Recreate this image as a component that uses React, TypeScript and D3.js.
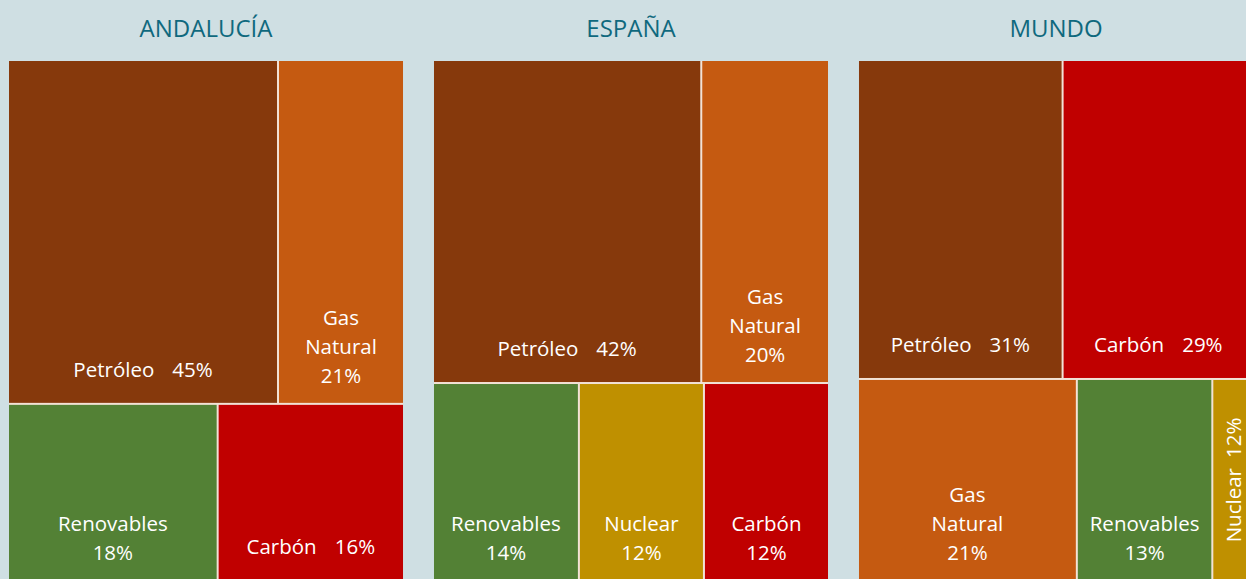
import React from 'react';
import * as d3 from 'd3';

// Andalucía, España y Mundo: energía primaria por fuente
const regions = ['ANDALUCÍA', 'ESPAÑA', 'MUNDO'];

const andaluciaNames = ['Petróleo', 'Gas Natural', 'Renovables', 'Carbón'];
const andaluciaValues = [45, 21, 18, 16];
const andaluciaLabels = ['45%', '21%', '18%', '16%'];

const espanaNames = ['Petróleo', 'Gas Natural', 'Renovables', 'Nuclear', 'Carbón'];
const espanaValues = [42, 20, 14, 12, 12];
const espanaLabels = ['42%', '20%', '14%', '12%', '12%'];

const mundoNames = ['Petróleo', 'Carbón', 'Gas Natural', 'Renovables', 'Nuclear'];
const mundoValues = [31, 29, 21, 13, 4];
const mundoLabels = ['31%', '29%', '21%', '13%', '12%'];

// how many items go in the top row of each treemap
const topRowCounts = [2, 2, 2];

const colors: Record<string, string> = {
  'Petróleo': '#86390c',
  'Gas Natural': '#c55a11',
  'Carbón': '#c00000',
  'Renovables': '#538135',
  'Nuclear': '#bf9000',
};

const W = 1246;
const H = 579;
const FONT = '"Open Sans", "DejaVu Sans", sans-serif';
const FS = 20.5;

const panels = [
  { names: andaluciaNames, values: andaluciaValues, labels: andaluciaLabels },
  { names: espanaNames, values: espanaValues, labels: espanaLabels },
  { names: mundoNames, values: mundoValues, labels: mundoLabels },
];

const ctx = document.createElement('canvas').getContext('2d')!;
const measure = (s: string) => {
  ctx.font = `${FS}px ${FONT}`;
  return ctx.measureText(s).width;
};

const Panel = ({ idx, x0, pw, top, ph }: any) => {
  const p = panels[idx];
  const items = p.names.map((n: string, i: number) => ({ name: n, value: p.values[i], label: p.labels[i] }));
  const k = topRowCounts[idx];
  const data = { children: [{ children: items.slice(0, k) }, { children: items.slice(k) }] };

  const root = d3
    .hierarchy<any>(data)
    .sum((d: any) => d.value || 0);

  // rows stacked vertically, cells side by side within a row
  d3
    .treemap<any>()
    .tile((node: any, a: number, b: number, c: number, e: number) =>
      node.depth === 0 ? d3.treemapSlice(node, a, b, c, e) : d3.treemapDice(node, a, b, c, e)
    )
    .size([pw, ph])
    .paddingInner(2)(root);

  const leaves = root.leaves() as any[];

  return (
    <g transform={`translate(${x0},${top})`}>
      <rect width={pw} height={ph} fill="#f2e2d6" />
      {leaves.map((d, i) => {
        const w = d.x1 - d.x0;
        const h = d.y1 - d.y0;
        const cx = (d.x0 + d.x1) / 2;
        const gap = 18;
        const oneW = measure(d.data.name) + gap + measure(d.data.label);
        let label;
        if (w < 60) {
          const cy = (d.y0 + d.y1) / 2;
          label = (
            <text transform={`translate(${cx},${cy}) rotate(-90)`} textAnchor="middle" dominantBaseline="central">
              <tspan>{d.data.name}</tspan>
              <tspan dx={10}>{d.data.label}</tspan>
            </text>
          );
        } else if (oneW * 1.38 < w) {
          label = (
            <text x={cx} y={d.y1 - 34} textAnchor="middle" dominantBaseline="central">
              <tspan>{d.data.name}</tspan>
              <tspan dx={gap}>{d.data.label}</tspan>
            </text>
          );
        } else {
          const lines = [...d.data.name.split(' '), d.data.label];
          const last = d.y1 - 28;
          label = (
            <text textAnchor="middle" dominantBaseline="central">
              {lines.map((l: string, j: number) => (
                <tspan key={j} x={cx} y={last - (lines.length - 1 - j) * 29}>
                  {l}
                </tspan>
              ))}
            </text>
          );
        }
        return (
          <g key={i}>
            <rect x={d.x0} y={d.y0} width={w} height={h} fill={colors[d.data.name]} />
            <g fill="#ffffff" fontSize={FS} fontFamily={FONT}>
              {label}
            </g>
          </g>
        );
      })}
    </g>
  );
};

export default function App() {
  const x = d3.scaleBand<string>().domain(regions).range([9, 1253]).paddingInner(0.0729);
  const top = 61;
  const ph = H - top + 1;

  return (
    <svg
      width={W}
      height={H}
      style={{ position: 'absolute', left: 0, top: 0, display: 'block' }}
    >
      <rect width={W} height={H} fill="#cfdfe3" />
      {regions.map((r, i) => (
        <g key={r}>
          <text
            x={(x(r) as number) + x.bandwidth() / 2}
            y={27}
            textAnchor="middle"
            dominantBaseline="central"
            fontFamily={FONT}
            fontSize={24}
            fill="#0f697e"
          >
            {r}
          </text>
          <Panel idx={i} x0={x(r)} pw={x.bandwidth()} top={top} ph={ph} />
        </g>
      ))}
    </svg>
  );
}
